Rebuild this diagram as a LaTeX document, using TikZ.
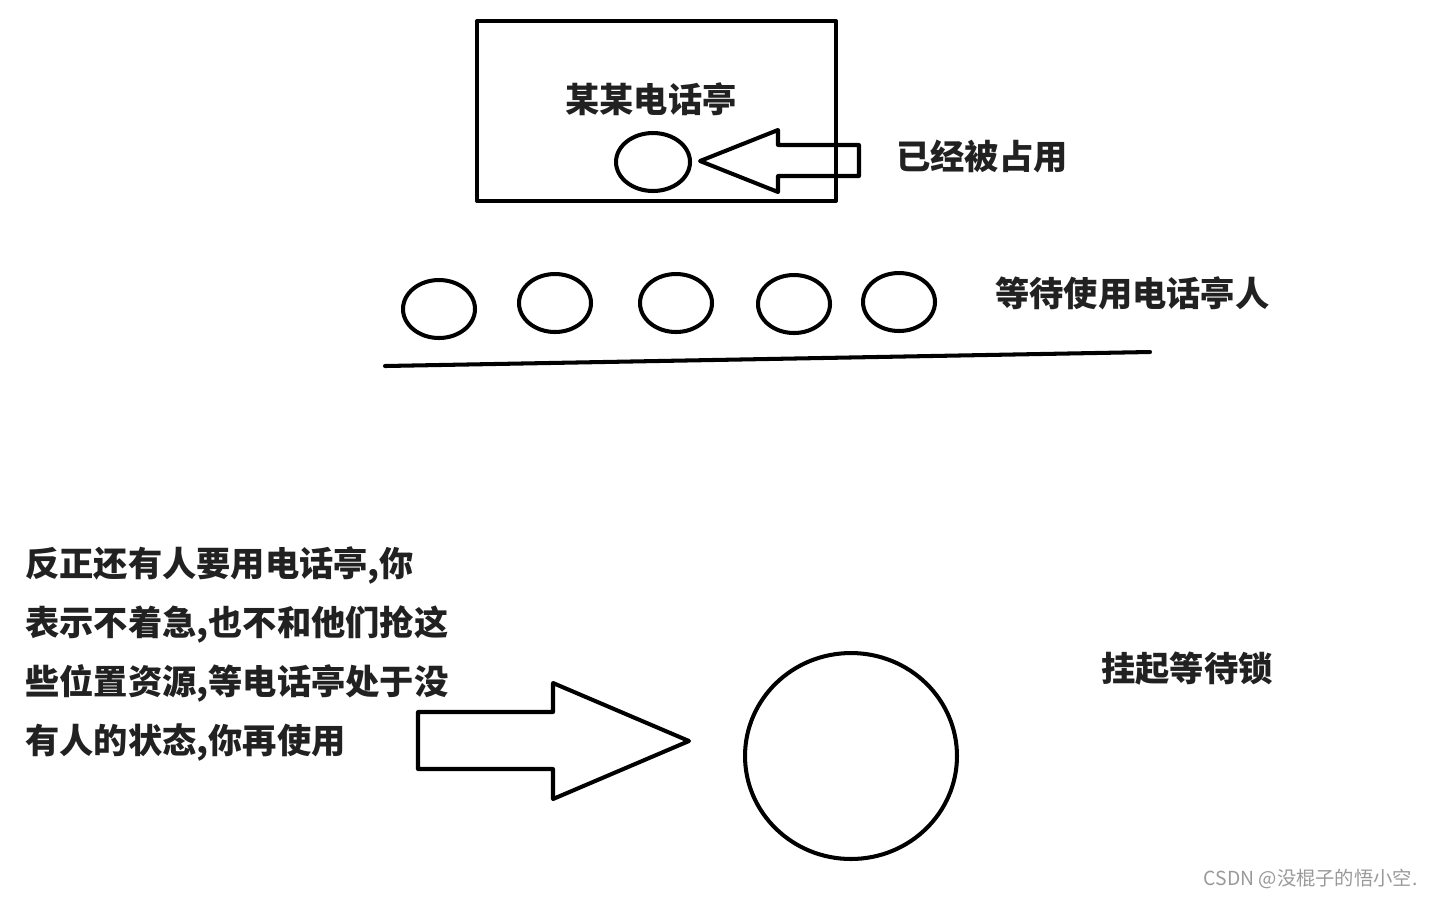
\documentclass[tikz,border=0pt]{standalone}
\usepackage{fontspec}
\newfontfamily\cjk{Noto Sans CJK SC}
\usetikzlibrary{shapes.geometric}
\tikzset{
	ren/.style={draw,ellipse,line width=2.3pt,minimum width=1.44cm,minimum height=1.16cm,inner sep=0pt},
	wenzi/.style={inner sep=0pt,text=black!87,font=\cjk\bfseries\fontsize{19.5}{33.7}\selectfont}
}
\begin{document}
\begin{tikzpicture}[line cap=round,line join=round,x=0.02cm,y=-0.02cm]
	\useasboundingbox (0,0) rectangle (1432,897);
	% telephone booth
	\draw[line width=2.3pt] (477,21) rectangle (836,201);
	\node[wenzi] (ting) at (651,99) {某某电话亭};
	\node[ren,minimum width=1.48cm] (yong) at (653,162) {};
	\draw[line width=2.3pt] (700,161)--(778,130)--(778,145)--(859,145)--(859,176)--(778,176)--(778,192)--cycle;
	\node[wenzi,anchor=west] (zhan) at (896,156) {已经被占用};
	% waiting people
	\node[ren] (r1) at (439,309) {};
	\node[ren] (r2) at (555,303) {};
	\node[ren] (r3) at (676,303) {};
	\node[ren] (r4) at (794,304) {};
	\node[ren] (r5) at (899,302) {};
	\draw[line width=2.3pt] (385,366)--(1150,352);
	\node[wenzi,anchor=west] (deng) at (995,293) {等待使用电话亭人};
	% lock
	\node[wenzi,anchor=west,align=left] (shuo) at (25,654) {反正还有人要用电话亭,你\\表示不着急,也不和他们抢这\\些位置资源,等电话亭处于没\\有人的状态,你再使用};
	\draw[line width=2.3pt] (418,712)--(553,712)--(553,683)--(689,741)--(553,799)--(553,769)--(418,769)--cycle;
	\node[draw,ellipse,line width=2.3pt,minimum width=4.24cm,minimum height=4.12cm,inner sep=0pt] (suo) at (851,756) {};
	\node[wenzi,anchor=west] (gua) at (1101,669) {挂起等待锁};
	\node[anchor=east,inner sep=0pt,text=black!40,font=\cjk\fontsize{11}{13}\selectfont] (csdn) at (1418,879) {CSDN @没棍子的悟小空.};
\end{tikzpicture}
\end{document}
